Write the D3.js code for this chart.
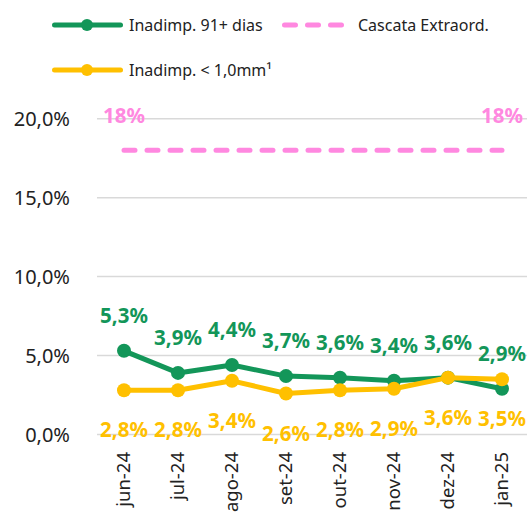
<!DOCTYPE html>
<html>
<head>
<meta charset="utf-8">
<script src="https://cdn.jsdelivr.net/npm/d3@7"></script>
<style>
  html, body { margin: 0; padding: 0; background: #fff; }
  svg { display: block; font-family: "Noto Sans", sans-serif; }
</style>
</head>
<body>
<div id="chart"></div>
<script>
const months = ["jun-24", "jul-24", "ago-24", "set-24", "out-24", "nov-24", "dez-24", "jan-25"];
const inad91 = [5.3, 3.9, 4.4, 3.7, 3.6, 3.4, 3.6, 2.9];
const inadSmall = [2.8, 2.8, 3.4, 2.6, 2.8, 2.9, 3.6, 3.5];
const cascata = [18, 18, 18, 18, 18, 18, 18, 18];
const yTicks = [0, 5, 10, 15, 20];

const width = 527, height = 513;
const green = "#139659", yellow = "#ffc000", pink = "#ff88e0";

const svg = d3.select("#chart").append("svg")
  .attr("width", width)
  .attr("height", height);

const x = d3.scaleBand().domain(months).range([97, 529]);
const cx = (d) => x(d) + x.bandwidth() / 2;
const y = d3.scaleLinear().domain([0, 20]).range([434.5, 118.7]);

const fmt = (v) => v.toFixed(1).replace(".", ",") + "%";

// Grid lines
svg.append("g")
  .selectAll("line")
  .data(yTicks)
  .enter()
  .append("line")
  .attr("x1", 97)
  .attr("x2", width)
  .attr("y1", (d) => y(d))
  .attr("y2", (d) => y(d))
  .attr("stroke", "#d9d9d9")
  .attr("stroke-width", 1.5);

// Y axis labels
svg.append("g")
  .selectAll("text")
  .data(yTicks)
  .enter()
  .append("text")
  .attr("x", 70)
  .attr("y", (d) => y(d))
  .attr("dy", "0.35em")
  .attr("text-anchor", "end")
  .attr("font-size", 20)
  .attr("fill", "#222")
  .text((d) => fmt(d));

// X axis labels (rotated)
svg.append("g")
  .selectAll("text")
  .data(months)
  .enter()
  .append("text")
  .attr("transform", (d) => `translate(${cx(d)},452) rotate(-90)`)
  .attr("dy", "0.35em")
  .attr("text-anchor", "end")
  .attr("font-size", 18.5)
  .attr("fill", "#222")
  .text((d) => d);

const line = d3.line()
  .x((d, i) => cx(months[i]))
  .y((d) => y(d));

// Cascata dashed line
svg.append("path")
  .datum(cascata)
  .attr("d", line)
  .attr("fill", "none")
  .attr("stroke", pink)
  .attr("stroke-width", 5)
  .attr("stroke-linecap", "round")
  .attr("stroke-dasharray", "11 12");

svg.append("g")
  .selectAll("text")
  .data([0, cascata.length - 1])
  .enter()
  .append("text")
  .attr("x", (i) => cx(months[i]))
  .attr("y", (i) => y(cascata[i]) - 34)
  .attr("dy", "0.35em")
  .attr("text-anchor", "middle")
  .attr("font-size", 20.5)
  .attr("font-weight", "bold")
  .attr("fill", pink)
  .text((i) => cascata[i] + "%");

function drawSeries(values, color, offset) {
  svg.append("path")
    .datum(values)
    .attr("d", line)
    .attr("fill", "none")
    .attr("stroke", color)
    .attr("stroke-width", 5)
    .attr("stroke-linejoin", "round");

  svg.append("g")
    .selectAll("circle")
    .data(values)
    .enter()
    .append("circle")
    .attr("cx", (d, i) => cx(months[i]))
    .attr("cy", (d) => y(d))
    .attr("r", 7)
    .attr("fill", color);

  svg.append("g")
    .selectAll("text")
    .data(values)
    .enter()
    .append("text")
    .attr("x", (d, i) => cx(months[i]))
    .attr("y", (d) => y(d) + offset)
    .attr("dy", "0.35em")
    .attr("text-anchor", "middle")
    .attr("font-size", 20.5)
    .attr("font-weight", "bold")
    .attr("fill", color)
    .text((d) => fmt(d));
}

drawSeries(inad91, green, -35);
drawSeries(inadSmall, yellow, 40);

// Legend
const legend = [
  { label: "Inadimp. 91+ dias", color: green, dash: false, x: 52, y: 25 },
  { label: "Cascata Extraord.", color: pink, dash: true, x: 282, y: 25 },
  { label: "Inadimp. < 1,0mm¹", color: yellow, dash: false, x: 52, y: 70 }
];

const lg = svg.append("g")
  .selectAll("g")
  .data(legend)
  .enter()
  .append("g")
  .attr("transform", (d) => `translate(${d.x},${d.y})`);

lg.append("line")
  .attr("x1", 2.5)
  .attr("x2", (d) => (d.dash ? 61 : 68.5))
  .attr("stroke", (d) => d.color)
  .attr("stroke-width", 5)
  .attr("stroke-linecap", "round")
  .attr("stroke-dasharray", (d) => (d.dash ? "11 12" : null));

lg.filter((d) => !d.dash)
  .append("circle")
  .attr("cx", 35)
  .attr("r", 6)
  .attr("fill", (d) => d.color);

lg.append("text")
  .attr("x", (d) => (d.dash ? 76 : 77))
  .attr("dy", "0.35em")
  .attr("font-size", 16)
  .attr("fill", "#222")
  .text((d) => d.label);
</script>
</body>
</html>
